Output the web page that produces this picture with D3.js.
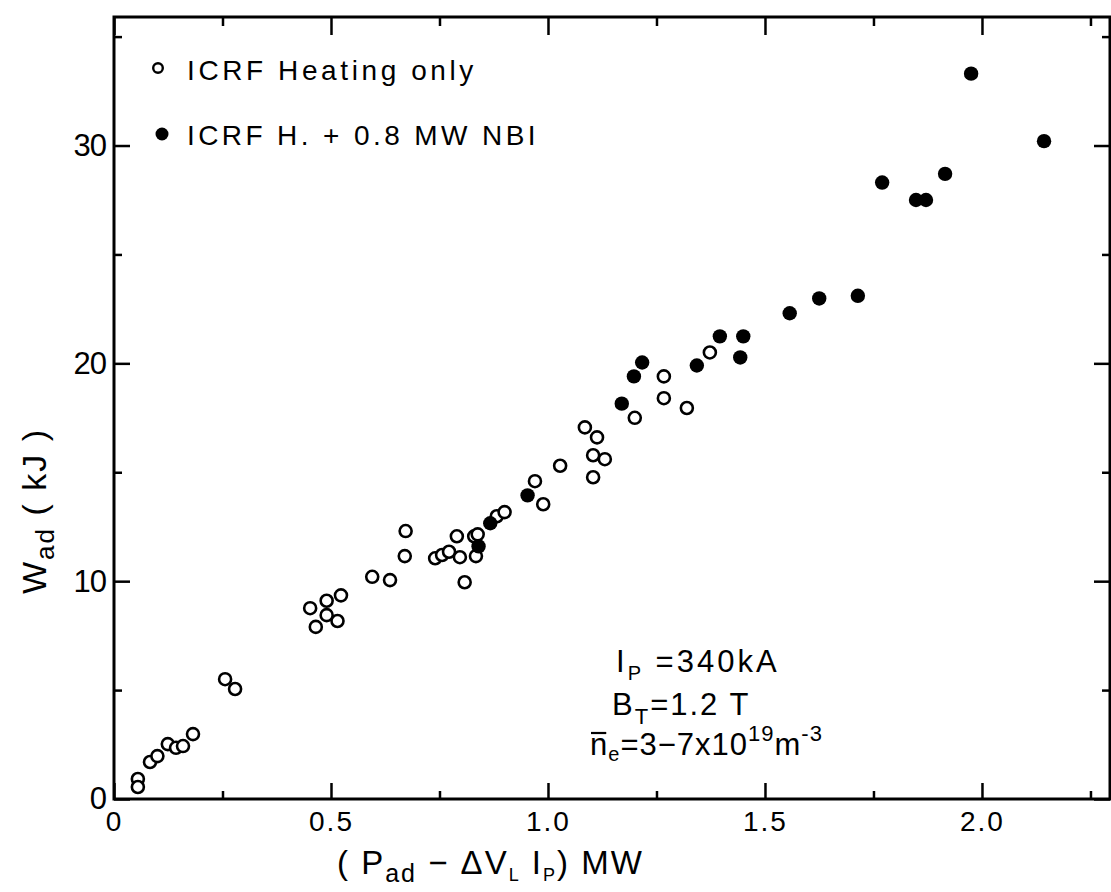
<!DOCTYPE html>
<html>
<head>
<meta charset="utf-8">
<script src="https://cdn.jsdelivr.net/npm/d3@7"></script>
<style>
  body { margin: 0; background: #fff; }
  text { font-family: "Liberation Sans", Arial, sans-serif; fill: #000; }
</style>
</head>
<body>
<div id="canvas"></div>
<script>
"use strict";

/* -------------------- Data -------------------- */

// ICRF heating only (open circles)
let openX = [0.055, 0.055, 0.083, 0.100, 0.124, 0.143, 0.159, 0.182, 0.256, 0.279,
             0.452, 0.465, 0.490, 0.515, 0.490, 0.523, 0.595, 0.636, 0.672, 0.670,
             0.740, 0.756, 0.772, 0.790, 0.797, 0.808, 0.830, 0.838, 0.834, 0.882,
             0.900, 0.970, 0.989, 1.028, 1.085, 1.113, 1.104, 1.131, 1.104, 1.200,
             1.267, 1.267, 1.320, 1.373];
let openY = [0.92, 0.55, 1.70, 1.97, 2.52, 2.35, 2.43, 2.98, 5.50, 5.05,
             8.76, 7.90, 8.44, 8.17, 9.10, 9.35, 10.20, 10.05, 12.30, 11.15,
             11.05, 11.20, 11.35, 12.06, 11.10, 9.95, 12.06, 12.15, 11.15, 12.98,
             13.17, 14.59, 13.53, 15.30, 17.06, 16.60, 15.78, 15.60, 14.77, 17.50,
             19.40, 18.40, 17.95, 20.50];

// ICRF H. + 0.8 MW NBI (filled circles)
let filledX = [0.840, 0.867, 0.953, 1.170, 1.198, 1.217, 1.343, 1.396, 1.450, 1.443,
               1.557, 1.625, 1.714, 1.770, 1.848, 1.871, 1.915, 1.975, 2.143];
let filledY = [11.60, 12.66, 13.94, 18.15, 19.40, 20.04, 19.90, 21.24, 21.24, 20.27,
               22.30, 22.98, 23.10, 28.30, 27.50, 27.50, 28.70, 33.30, 30.20];

let xMajor = [0, 0.5, 1.0, 1.5, 2.0];
let xMajorLabels = ["0", "0.5", "1.0", "1.5", "2.0"];
let xMinor = [0.25, 0.75, 1.25, 1.75, 2.25];
let yMajor = [0, 10, 20, 30];
let yMajorLabels = ["0", "10", "20", "30"];
let yMinor = [5, 15, 25, 35];

/* -------------------- Layout -------------------- */

let svgWidth = 1111;
let svgHeight = 892;

let svg = d3.select("#canvas")
    .append("svg")
    .attr("width", svgWidth)
    .attr("height", svgHeight);

let xScale = d3.scaleLinear()
    .domain([0, 2.295])
    .range([114, 1110]);

let yScale = d3.scaleLinear()
    .domain([0, 35.9])
    .range([799, 17]);

let x0 = xScale.range()[0], x1 = xScale.range()[1];
let y0 = yScale.range()[0], y1 = yScale.range()[1];

/* -------------------- Axes (ticks inward) -------------------- */

function styleAxis(g) {
    g.select(".domain").remove();
    g.selectAll("line").attr("stroke", "#000").attr("stroke-width", 2.5);
}

// bottom
svg.append("g")
    .attr("transform", "translate(0," + y0 + ")")
    .call(d3.axisBottom(xScale).tickValues(xMajor).tickSize(-16).tickPadding(12)
        .tickFormat((d, i) => xMajorLabels[i]))
    .call(styleAxis)
    .selectAll("text")
    .style("font-size", "28px")
    .style("letter-spacing", "2px");

svg.append("g")
    .attr("transform", "translate(0," + y0 + ")")
    .call(d3.axisBottom(xScale).tickValues(xMinor).tickSize(-8).tickFormat(""))
    .call(styleAxis);

// top
svg.append("g")
    .attr("transform", "translate(0," + y1 + ")")
    .call(d3.axisTop(xScale).tickValues(xMajor).tickSize(-18).tickFormat(""))
    .call(styleAxis);

svg.append("g")
    .attr("transform", "translate(0," + y1 + ")")
    .call(d3.axisTop(xScale).tickValues(xMinor).tickSize(-9).tickFormat(""))
    .call(styleAxis);

// left
svg.append("g")
    .attr("transform", "translate(" + x0 + ",0)")
    .call(d3.axisLeft(yScale).tickValues(yMajor).tickSize(-16).tickPadding(8)
        .tickFormat((d, i) => yMajorLabels[i]))
    .call(styleAxis)
    .selectAll("text")
    .style("font-size", "31px")
    .style("letter-spacing", "-1px");

svg.append("g")
    .attr("transform", "translate(" + x0 + ",0)")
    .call(d3.axisLeft(yScale).tickValues(yMinor).tickSize(-8).tickFormat(""))
    .call(styleAxis);

// right
svg.append("g")
    .attr("transform", "translate(" + x1 + ",0)")
    .call(d3.axisRight(yScale).tickValues(yMajor).tickSize(-16).tickFormat(""))
    .call(styleAxis);

svg.append("g")
    .attr("transform", "translate(" + x1 + ",0)")
    .call(d3.axisRight(yScale).tickValues(yMinor).tickSize(-8).tickFormat(""))
    .call(styleAxis);

/* -------------------- Frame -------------------- */

svg.append("rect")
    .attr("x", x0)
    .attr("y", y1)
    .attr("width", x1 - x0)
    .attr("height", y0 - y1)
    .attr("fill", "none")
    .attr("stroke", "#000")
    .attr("stroke-width", 3);

/* -------------------- Points -------------------- */

svg.selectAll("circle.open")
    .data(d3.range(openX.length))
    .join("circle")
    .attr("class", "open")
    .attr("cx", i => xScale(openX[i]))
    .attr("cy", i => yScale(openY[i]))
    .attr("r", 6)
    .attr("fill", "#fff")
    .attr("stroke", "#000")
    .attr("stroke-width", 2.6);

svg.selectAll("circle.filled")
    .data(d3.range(filledX.length))
    .join("circle")
    .attr("class", "filled")
    .attr("cx", i => xScale(filledX[i]))
    .attr("cy", i => yScale(filledY[i]))
    .attr("r", 7.2)
    .attr("fill", "#000");

/* -------------------- Legend -------------------- */

svg.append("circle")
    .attr("cx", 158).attr("cy", 68).attr("r", 4.8)
    .attr("fill", "#fff").attr("stroke", "#000").attr("stroke-width", 2.4);

svg.append("text")
    .attr("x", 187).attr("y", 80)
    .style("font-size", "28px")
    .style("letter-spacing", "3.6px")
    .text("ICRF Heating only");

svg.append("circle")
    .attr("cx", 162).attr("cy", 134).attr("r", 6.5)
    .attr("fill", "#000");

svg.append("text")
    .attr("x", 187).attr("y", 145)
    .style("font-size", "28px")
    .style("letter-spacing", "3.4px")
    .text("ICRF H. + 0.8 MW NBI");

/* -------------------- Axis titles -------------------- */

let xTitle = svg.append("text")
    .attr("x", 337).attr("y", 874)
    .style("font-size", "33px")
    .style("letter-spacing", "2px");
xTitle.append("tspan").text("( P");
xTitle.append("tspan").attr("dy", 8).style("font-size", "25px").text("ad");
xTitle.append("tspan").attr("dy", -8).text(" − ΔV");
xTitle.append("tspan").attr("dy", 7).style("font-size", "18px").text("L");
xTitle.append("tspan").attr("dy", -7).text(" I");
xTitle.append("tspan").attr("dy", 7).style("font-size", "18px").text("P");
xTitle.append("tspan").attr("dy", -7).text(") MW");

let yTitle = svg.append("text")
    .attr("transform", "translate(46,594) rotate(-90)")
    .style("font-size", "34px")
    .style("letter-spacing", "2px");
yTitle.append("tspan").text("W");
yTitle.append("tspan").attr("dy", 8).style("font-size", "26px").text("ad");
yTitle.append("tspan").attr("dy", -8).text(" ( kJ )");

/* -------------------- Annotation -------------------- */

let a1 = svg.append("text")
    .attr("x", 616).attr("y", 672)
    .style("font-size", "31px")
    .style("letter-spacing", "3px");
a1.append("tspan").text("I");
a1.append("tspan").attr("dy", 8).style("font-size", "20px").text("P");
a1.append("tspan").attr("dy", -8).text(" =340kA");

let a2 = svg.append("text")
    .attr("x", 612).attr("y", 715)
    .style("font-size", "31px")
    .style("letter-spacing", "2px");
a2.append("tspan").text("B");
a2.append("tspan").attr("dy", 9).style("font-size", "22px").text("T");
a2.append("tspan").attr("dy", -9).text("=1.2 T");

let a3 = svg.append("text")
    .attr("x", 590).attr("y", 755)
    .style("font-size", "31px")
    .style("letter-spacing", "1px");
let nBar = a3.append("tspan").text("n");
a3.append("tspan").attr("dy", 6).style("font-size", "20px").text("e");
a3.append("tspan").attr("dy", -6).text("=3−7x10");
a3.append("tspan").attr("dy", -14).style("font-size", "22px").text("19");
a3.append("tspan").attr("dy", 14).text("m");
a3.append("tspan").attr("dy", -14).style("font-size", "22px").text("-3");

// bar over the n (mean density)
let nBox = nBar.node().getBBox();
svg.append("line")
    .attr("x1", nBox.x + 1)
    .attr("x2", nBox.x + nBox.width - 2)
    .attr("y1", nBox.y + 6)
    .attr("y2", nBox.y + 6)
    .attr("stroke", "#000")
    .attr("stroke-width", 2.2);
</script>
</body>
</html>
